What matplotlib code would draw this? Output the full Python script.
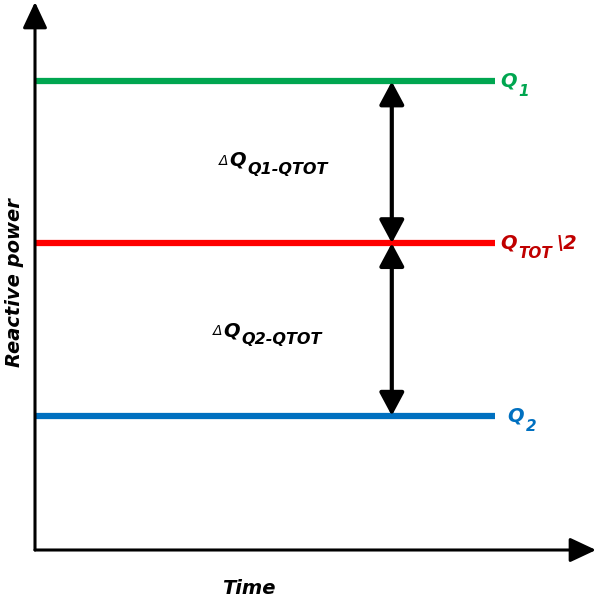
import matplotlib
matplotlib.use('Agg')
import matplotlib.pyplot as plt

# Reactive power levels (normalised units)
q_levels = [0.855, 0.56, 0.245]
line_colors = ['#00A650', '#FF0000', '#0070C0']
label_colors = ['#00A650', '#C00000', '#0070C0']
label_subs = ['1', 'TOT', '2']
label_tails = ['', '\\2', '']
label_dx = [0.0, 0.0, 0.012]

t_end = 0.82      # where the level lines stop
t_arrow = 0.636   # time of the difference arrows
delta_subs = ['Q1-QTOT', 'Q2-QTOT']
delta_x = [0.346, 0.335]
delta_dy = [0.004, -0.002]

BI = dict(fontweight='bold', fontstyle='italic')


def q_label(ax, x, y, sub, tail, color, prefix=False, sub_size=11, sub_drop=3.8):
    """Q with a subscript, optional small delta before and text after"""
    q = ax.text(x, y, 'Q', fontsize=14, color=color, va='center', ha='left', **BI)
    if prefix:
        ax.annotate('\u0394', xy=(0, 0), xycoords=q, xytext=(-0.5, 3.3), textcoords='offset points',
                    fontsize=10, fontstyle='italic', color=color, va='baseline', ha='right')
    s = ax.annotate(sub, xy=(1, 0), xycoords=q, xytext=(1, -sub_drop), textcoords='offset points',
                    fontsize=sub_size, color=color, va='baseline', ha='left', **BI)
    if tail:
        ax.annotate(tail, xy=(1, 0), xycoords=(s, q), xytext=(3, 2.6), textcoords='offset points',
                    fontsize=14, color=color, va='baseline', ha='left', **BI)


fig = plt.figure(figsize=(5.96, 6.05), dpi=100)
ax = fig.add_axes([35 / 596, 55 / 605, 561 / 596, 548 / 605])
ax.set_xlim(0, 1)
ax.set_ylim(0, 1)
ax.axis('off')

# axes drawn as arrows
arrow_axis = dict(arrowstyle='-|>,head_length=16,head_width=7.5', mutation_scale=1,
                  color='black', lw=2.2, shrinkA=0, shrinkB=0)
ax.annotate('', xy=(0, 1), xytext=(0, 0), xycoords='axes fraction',
            arrowprops=arrow_axis, annotation_clip=False)
ax.annotate('', xy=(1, 0), xytext=(0, 0), xycoords='axes fraction',
            arrowprops=arrow_axis, annotation_clip=False)

# level lines
for lvl, col in zip(q_levels, line_colors):
    ax.plot([0, t_end], [lvl, lvl], color=col, lw=4.5, solid_capstyle='butt', clip_on=False)

# level labels
for lvl, sub, tail, col, dx in zip(q_levels, label_subs, label_tails, label_colors, label_dx):
    q_label(ax, t_end + 0.01 + dx, lvl, sub, tail, col)

# difference arrows
arrow_diff = dict(arrowstyle='<|-|>,head_length=14,head_width=7.5', mutation_scale=1,
                  color='black', lw=3, shrinkA=0, shrinkB=0)
for i in range(2):
    ax.annotate('', xy=(t_arrow, q_levels[i]), xytext=(t_arrow, q_levels[i + 1]),
                arrowprops=arrow_diff)
    mid = (q_levels[i] + q_levels[i + 1]) / 2
    q_label(ax, delta_x[i], mid + delta_dy[i], delta_subs[i], '', 'black', prefix=True,
            sub_size=11.5, sub_drop=3.0)

fig.text(249 / 596, 1 - 588 / 605, 'Time', fontsize=14, ha='center', va='center', **BI)
fig.text(15 / 596, 1 - 283 / 605, 'Reactive power', fontsize=14, ha='center', va='center',
         rotation=90, **BI)

fig.savefig('out.png', dpi=100)
